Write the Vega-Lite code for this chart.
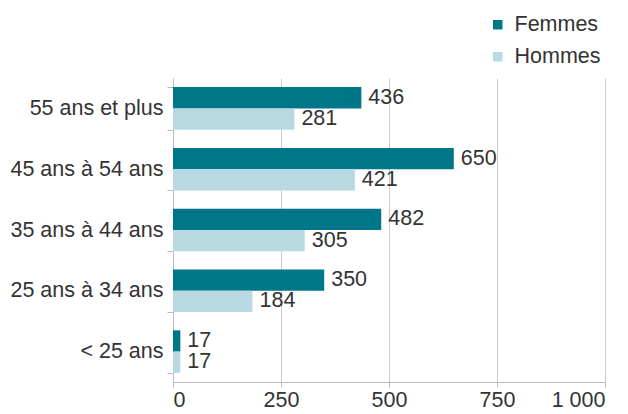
{
  "$schema": "https://vega.github.io/schema/vega-lite/v6.json",
  "width": 432,
  "height": 304,
  "autosize": {"type": "none"},
  "padding": {"left": 173, "top": 78, "right": 23, "bottom": 32},
  "background": "white",
  "config": {
    "view": {"stroke": null},
    "font": "Liberation Sans",
    "text": {"font": "Liberation Sans"}
  },
  "data": {
    "values": [
      {"age": "55 ans et plus", "sexe": "Femmes", "n": 436},
      {"age": "55 ans et plus", "sexe": "Hommes", "n": 281},
      {"age": "45 ans à 54 ans", "sexe": "Femmes", "n": 650},
      {"age": "45 ans à 54 ans", "sexe": "Hommes", "n": 421},
      {"age": "35 ans à 44 ans", "sexe": "Femmes", "n": 482},
      {"age": "35 ans à 44 ans", "sexe": "Hommes", "n": 305},
      {"age": "25 ans à 34 ans", "sexe": "Femmes", "n": 350},
      {"age": "25 ans à 34 ans", "sexe": "Hommes", "n": 184},
      {"age": "< 25 ans", "sexe": "Femmes", "n": 17},
      {"age": "< 25 ans", "sexe": "Hommes", "n": 17}
    ]
  },
  "encoding": {
    "y": {
      "field": "age",
      "type": "nominal",
      "sort": ["55 ans et plus", "45 ans à 54 ans", "35 ans à 44 ans", "25 ans à 34 ans", "< 25 ans"],
      "scale": {"paddingInner": 0.3, "paddingOuter": 0.15},
      "axis": {
        "title": null,
        "tickBand": "extent",
        "domainColor": "#bbbbbb",
        "tickColor": "#bbbbbb",
        "tickSize": 6,
        "labelFontSize": 21.5,
        "labelColor": "#333333",
        "labelPadding": 4
      }
    },
    "yOffset": {"field": "sexe", "type": "nominal", "sort": ["Femmes", "Hommes"]},
    "x": {
      "field": "n",
      "type": "quantitative",
      "scale": {"domain": [0, 1000], "nice": false},
      "axis": {
        "title": null,
        "values": [0, 250, 500, 750, 1000],
        "labelExpr": "replace(format(datum.value, ',d'), ',', ' ')",
        "grid": true,
        "gridColor": "#cccccc",
        "domainColor": "#bbbbbb",
        "tickColor": "#bbbbbb",
        "tickSize": 5,
        "labelFontSize": 21.5,
        "labelColor": "#333333",
        "labelPadding": 2
      }
    },
    "color": {
      "field": "sexe",
      "type": "nominal",
      "scale": {"domain": ["Femmes", "Hommes"], "range": ["#007789", "#b9d9e2"]},
      "legend": {
        "title": null,
        "orient": "none",
        "legendX": 314,
        "legendY": -64,
        "symbolType": "square",
        "symbolSize": 90,
        "symbolStrokeWidth": 0,
        "labelFontSize": 21.5,
        "labelColor": "#333333",
        "rowPadding": 9,
        "labelOffset": 6
      }
    }
  },
  "layer": [
    {"mark": {"type": "bar"}},
    {
      "mark": {"type": "text", "align": "left", "dx": 7, "fontSize": 21.5, "color": "#333333"},
      "encoding": {"text": {"field": "n", "type": "quantitative"}, "color": {"value": "#333333"}}
    }
  ]
}
